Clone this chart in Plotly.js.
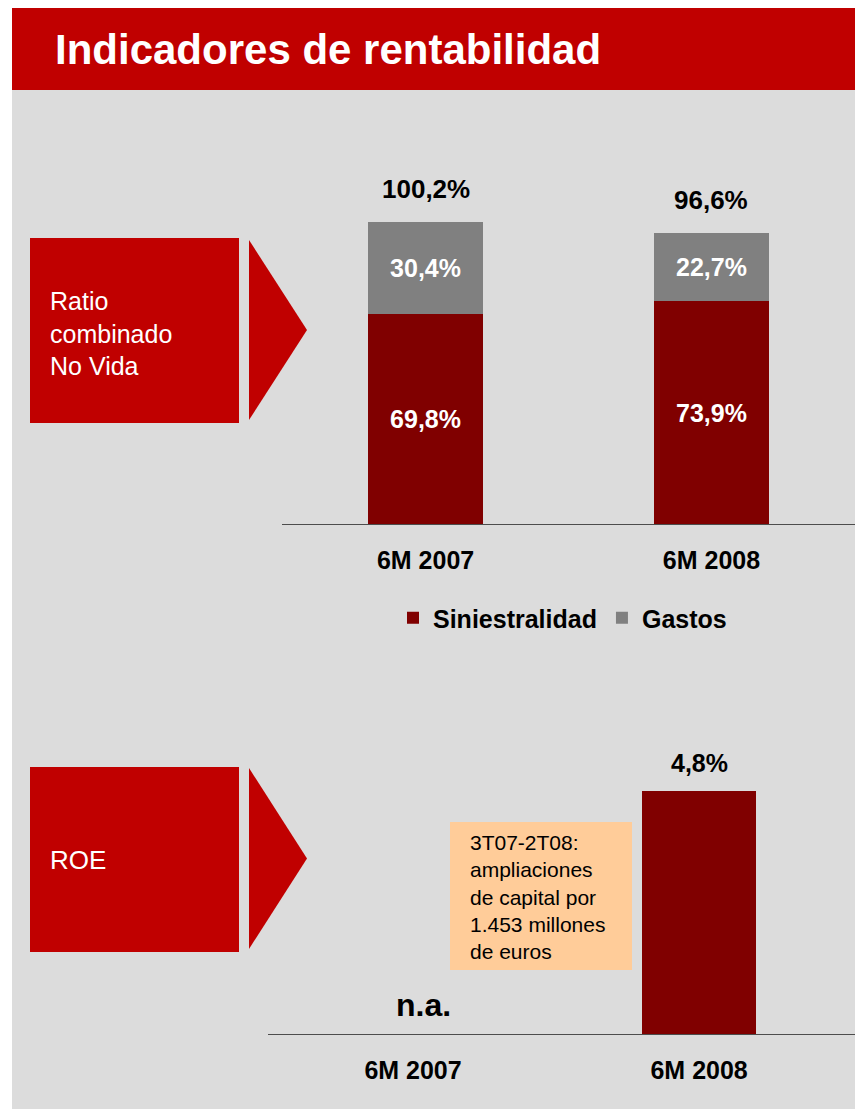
<!DOCTYPE html>
<html>
<head>
<meta charset="utf-8">
<script src="https://cdn.plot.ly/plotly-3.0.1.min.js"></script>
<style>
  html, body { margin: 0; padding: 0; background: #ffffff; }
  #chart { width: 855px; height: 1109px; }
</style>
</head>
<body>
<div id="chart"></div>
<script>
// ---- data ----
const periods = ['6M 2007', '6M 2008'];
const siniestralidad = [69.8, 73.9];
const gastos = [30.4, 22.7];
const roeValues = [null, 4.8];
const seriesNames = ['Siniestralidad', 'Gastos'];
const titleText = 'Indicadores de rentabilidad';
const boxLabels = ['Ratio<br>combinado<br>No Vida', 'ROE'];
const noteText = '3T07-2T08:<br>ampliaciones<br>de capital por<br>1.453 millones<br>de euros';
const naText = 'n.a.';

// ---- helpers ----
const W = 855, H = 1109;
const px = v => v / W;
const py = v => 1 - v / H;
const fmt = v => v.toFixed(1).replace('.', ',') + '%';
const FONT = 'Liberation Sans, Arial, Helvetica, sans-serif';
const RED = '#C00000', DARK = '#800000', GREY = '#808080', BG = '#DCDCDC';

function rect(x0, y0, x1, y1, color) {
  return {type: 'rect', xref: 'paper', yref: 'paper', x0: px(x0), x1: px(x1), y0: py(y1), y1: py(y0),
          fillcolor: color, line: {width: 0}, layer: 'below'};
}
function tri(x0, y0, x1, y1) {
  const ym = (y0 + y1) / 2;
  return {type: 'path', xref: 'paper', yref: 'paper', layer: 'below',
          path: `M ${px(x0)} ${py(y0)} L ${px(x1)} ${py(ym)} L ${px(x0)} ${py(y1)} Z`,
          fillcolor: RED, line: {width: 0}};
}

const totals = siniestralidad.map((v, i) => v + gastos[i]);

const traces = [
  {type: 'bar', name: seriesNames[0], x: periods, y: siniestralidad, xaxis: 'x', yaxis: 'y',
   marker: {color: DARK}, width: 0.4, text: siniestralidad.map(fmt), textposition: 'inside',
   insidetextanchor: 'middle', textfont: {color: '#ffffff', size: 25, family: FONT, weight: 'bold'},
   hoverinfo: 'skip'},
  {type: 'bar', name: seriesNames[1], x: periods, y: gastos, xaxis: 'x', yaxis: 'y',
   marker: {color: GREY}, width: 0.4, text: gastos.map(fmt), textposition: 'inside',
   insidetextanchor: 'middle', textfont: {color: '#ffffff', size: 25, family: FONT, weight: 'bold'},
   hoverinfo: 'skip'},
  {type: 'bar', name: 'ROE', x: periods, y: roeValues, xaxis: 'x2', yaxis: 'y2',
   marker: {color: DARK}, width: 0.4, showlegend: false, hoverinfo: 'skip'}
];

const annotations = [];
periods.forEach((p, i) => {
  annotations.push({xref: 'x', yref: 'y', x: p, y: totals[i], text: fmt(totals[i]), showarrow: false,
    yanchor: 'middle', yshift: 33, font: {family: FONT, size: 26, color: '#000', weight: 'bold'}});
  if (roeValues[i] === null) {
    annotations.push({xref: 'x2', yref: 'y2', x: p, y: 0, text: naText, showarrow: false,
      yanchor: 'middle', yshift: 29, xshift: 10, font: {family: FONT, size: 32, color: '#000', weight: 'bold'}});
  } else {
    annotations.push({xref: 'x2', yref: 'y2', x: p, y: roeValues[i], text: fmt(roeValues[i]), showarrow: false,
      yanchor: 'middle', yshift: 28, font: {family: FONT, size: 25, color: '#000', weight: 'bold'}});
  }
});
annotations.push({xref: 'paper', yref: 'paper', x: px(48), y: py(333), xanchor: 'left', yanchor: 'middle',
  align: 'left', text: boxLabels[0], showarrow: false, font: {family: FONT, size: 25, color: '#fff'}});
annotations.push({xref: 'paper', yref: 'paper', x: px(48), y: py(860), xanchor: 'left', yanchor: 'middle',
  align: 'left', text: boxLabels[1], showarrow: false, font: {family: FONT, size: 26, color: '#fff'}});
annotations.push({xref: 'paper', yref: 'paper', x: px(468), y: py(897), xanchor: 'left', yanchor: 'middle',
  align: 'left', text: noteText, showarrow: false, font: {family: FONT, size: 21, color: '#000'}});

const shapes = [
  rect(12, 90, 855, 1109, BG),
  rect(12, 8, 855, 90, RED),
  rect(30, 238, 239, 423, RED),
  tri(249, 240, 307, 420),
  rect(30, 767, 239, 952, RED),
  tri(249, 768, 307, 949),
  rect(450, 822, 632, 970, '#FFCC99')
];

const axisCommon = {type: 'category', categoryorder: 'array', categoryarray: periods,
  showline: true, linecolor: '#4d4d4d', linewidth: 1.3, ticks: '', showgrid: false, zeroline: false,
  tickfont: {family: FONT, size: 25, color: '#000', weight: 'bold'}, ticklabelstandoff: 14, fixedrange: true};

const layout = {
  width: W, height: H,
  margin: {l: 0, r: 0, t: 0, b: 0, pad: 0},
  paper_bgcolor: '#ffffff', plot_bgcolor: 'rgba(0,0,0,0)',
  barmode: 'stack',
  title: {text: titleText, x: px(55), xanchor: 'left', xref: 'paper', y: py(49), yref: 'paper', yanchor: 'middle',
          font: {family: FONT, size: 42, color: '#ffffff', weight: 'bold'}},
  xaxis: Object.assign({}, axisCommon, {domain: [px(282), 1], range: [-0.502, 1.502], anchor: 'y'}),
  yaxis: {domain: [py(524), py(160)], range: [0, 120.8], visible: false, fixedrange: true, anchor: 'x'},
  xaxis2: Object.assign({}, axisCommon, {domain: [px(268), 1], range: [-0.507, 1.545], anchor: 'y2'}),
  yaxis2: {domain: [py(1034), py(740)], range: [0, 5.81], visible: false, fixedrange: true, anchor: 'x2'},
  showlegend: true,
  legend: {orientation: 'h', x: px(393), xanchor: 'left', y: py(618), yanchor: 'middle',
           bgcolor: 'rgba(0,0,0,0)', borderwidth: 0, traceorder: 'normal',
           font: {family: FONT, size: 25, color: '#000', weight: 'bold'}},
  shapes: shapes,
  annotations: annotations
};

Plotly.newPlot('chart', traces, layout, {staticPlot: true, displayModeBar: false});
</script>
</body>
</html>
